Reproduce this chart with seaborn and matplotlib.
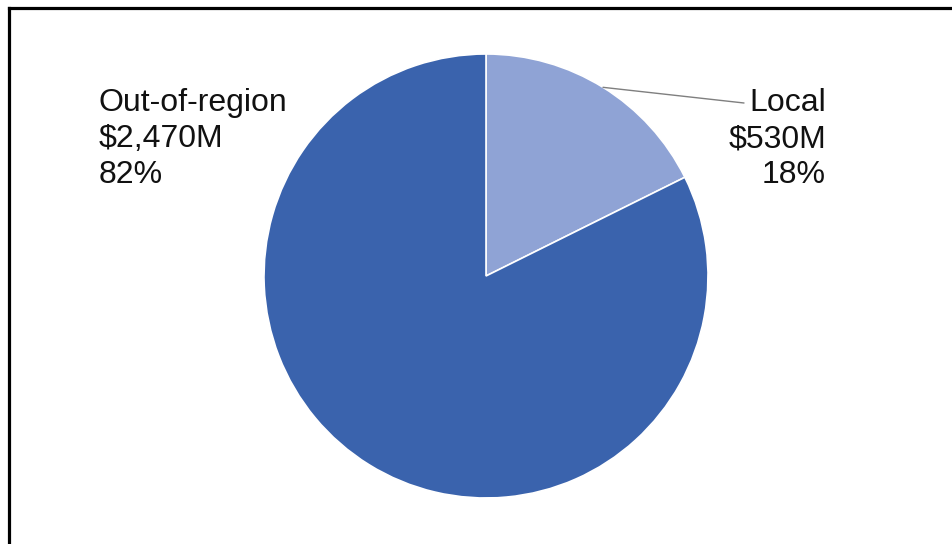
import matplotlib
matplotlib.use("Agg")
import matplotlib.pyplot as plt
from matplotlib.lines import Line2D
import seaborn as sns
import numpy as np

categories = ["Local", "Out-of-region"]
values_musd = [530, 2470]
percent_labels = ["18%", "82%"]
value_labels = ["$530M", "$2,470M"]
colors = ["#8FA3D5", "#3A63AD"]

sns.set_theme(style="white")
plt.rcParams['font.family'] = ['Liberation Sans', 'DejaVu Sans']

W, H = 953, 544
fig = plt.figure(figsize=(W / 100, H / 100), dpi=100)
cx, cy, r = 486, 276, 222
ax = fig.add_axes([(cx - r) / W, (H - cy - r) / H, 2 * r / W, 2 * r / H])
wedges, _ = ax.pie(values_musd, colors=colors, startangle=90, counterclock=False,
                   radius=1.0, wedgeprops=dict(edgecolor="white", linewidth=1.2))
ax.set_xlim(-1, 1)
ax.set_ylim(-1, 1)
ax.set_aspect("equal")
ax.axis("off")

def px(x, y):
    return (x / W, 1 - y / H)

# Out-of-region label (left)
fig.text(*px(99, 88), f"{categories[1]}\n{value_labels[1]}\n{percent_labels[1]}",
         ha="left", va="top", fontsize=23, color="#111111", linespacing=1.27)

# Local label (right) with leader line
w = wedges[0]
mid = np.deg2rad((w.theta1 + w.theta2) / 2)
start = (np.cos(mid), np.sin(mid))
ax.annotate("", xy=start, xycoords="data",
            xytext=px(744, 103), textcoords="figure fraction",
            arrowprops=dict(arrowstyle="-", color="#7f7f7f", lw=1.0,
                            shrinkA=0, shrinkB=0),
            annotation_clip=False)
fig.text(*px(826, 88), f"{categories[0]}\n{value_labels[0]}\n{percent_labels[0]}",
         ha="right", va="top", fontsize=23, color="#111111", linespacing=1.27,
         multialignment="right")

# partial frame (top and left edges)
lw = 2.3
fig.add_artist(Line2D([9.5 / W, 9.5 / W], [0, 1 - 7.5 / H], transform=fig.transFigure,
                      color="black", lw=lw, solid_capstyle="projecting"))
fig.add_artist(Line2D([9.5 / W, 1], [1 - 7.5 / H, 1 - 7.5 / H], transform=fig.transFigure,
                      color="black", lw=lw, solid_capstyle="projecting"))

fig.savefig("out.png", dpi=100, facecolor="white")
